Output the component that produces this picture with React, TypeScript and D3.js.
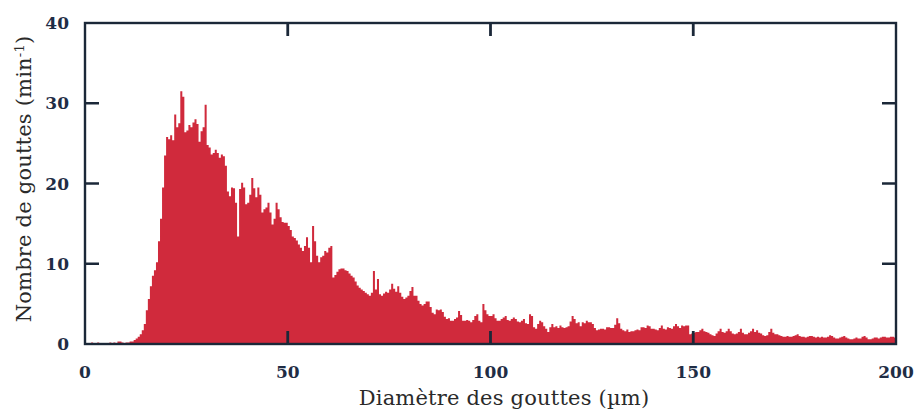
import React from 'react';
import * as d3 from 'd3';

// Histogram of droplet diameters, 0.5 µm bins (counts per minute)
const counts0to50 = [
  0.1, 0.1, 0.1, 0.2, 0.1, 0.1, 0.2, 0.1, 0.1, 0.1,
  0.1, 0.1, 0.2, 0.1, 0.2, 0.1, 0.3, 0.3, 0.2, 0.1,
  0.2, 0.2, 0.3, 0.3, 0.5, 0.7, 0.9, 1.2, 1.7, 2.5,
  4.2, 5.6, 7.2, 8.5, 9.2, 10.2, 12.8, 15.6, 19.5, 23.5,
  25.8, 25.5, 26.0, 25.4, 28.6, 27.0, 27.5, 31.5, 30.8, 26.4,
  26.6, 27.3, 27.0, 27.6, 28.0, 27.4, 25.2, 26.5, 27.0, 29.8,
  24.8, 24.5, 23.6, 23.8, 24.2, 23.8, 23.2, 23.6, 23.4, 22.2,
  19.0, 18.4, 19.5, 19.4, 17.6, 13.4, 19.3, 20.1, 19.5, 17.4,
  17.6, 18.6, 20.7, 19.4, 18.3, 19.5, 18.6, 16.4, 16.8, 17.0,
  17.6, 16.4, 14.9, 15.6, 17.6, 16.8, 15.8, 15.2, 15.1, 15.1,
];
const counts50to100 = [
  14.7, 14.2, 13.4, 13.2, 12.9, 12.4, 12.0, 11.6, 12.2, 13.3,
  12.0, 10.2, 14.7, 12.8, 11.0, 10.2, 10.8, 11.0, 11.6, 11.4,
  12.0, 12.2, 8.3, 8.6, 9.0, 9.3, 9.4, 9.4, 9.2, 9.1,
  8.8, 8.5, 8.3, 7.8, 7.3, 7.0, 6.8, 6.6, 6.4, 6.2,
  6.0, 6.4, 9.1, 6.8, 8.1, 6.2, 6.0, 6.3, 6.5, 6.4,
  6.8, 7.5, 6.9, 6.5, 7.2, 6.4, 5.9, 5.6, 5.8, 6.0,
  6.6, 7.1, 6.0, 6.0, 5.4, 5.0, 4.8, 5.0, 5.3, 5.3,
  4.6, 3.9, 3.7, 4.3, 4.2, 4.3, 4.0, 3.4, 3.1, 3.2,
  2.9, 2.9, 3.1, 3.3, 4.1, 3.6, 2.9, 2.9, 3.0, 2.9,
  2.7, 3.0, 3.5, 3.7, 2.9, 2.7, 5.0, 4.2, 3.7, 3.5,
];
const counts100to150 = [
  3.5, 3.7, 3.2, 2.9, 2.9, 3.1, 3.3, 3.5, 3.0, 2.9,
  3.1, 3.3, 3.1, 2.8, 2.7, 2.9, 3.1, 2.6, 2.5, 3.7,
  3.5, 2.1, 1.9, 2.5, 2.9, 2.7, 2.2, 1.9, 1.5, 2.1,
  2.5, 2.1, 2.2, 2.0, 2.3, 2.1, 2.0, 2.1, 2.2, 2.8,
  3.5, 3.1, 2.6, 2.7, 2.2, 2.7, 2.6, 2.9, 2.7, 2.7,
  2.5, 2.0, 1.7, 1.8, 1.9, 1.9, 1.8, 2.1, 2.1, 2.0,
  2.0, 2.4, 3.2, 2.6, 1.9, 1.7, 1.6, 1.8, 1.5, 1.6,
  1.6, 1.7, 1.8, 1.7, 2.1, 2.1, 2.0, 2.3, 2.2, 1.9,
  1.9, 1.8, 1.7, 2.0, 2.3, 1.9, 1.8, 2.1, 2.0, 1.9,
  2.2, 2.5, 2.2, 2.0, 2.3, 2.2, 2.3, 2.3, 1.2, 1.3,
];
const counts150to200 = [
  1.4, 1.5, 1.5, 1.7, 1.9, 1.6, 1.5, 1.4, 1.2, 1.1,
  1.0, 1.3, 1.6, 1.9, 1.5, 1.4, 1.6, 1.9, 1.6, 1.3,
  1.2, 1.3, 1.5, 1.9, 1.4, 1.2, 1.2, 1.4, 1.6, 1.9,
  1.5, 1.7, 1.4, 1.3, 1.1, 1.0, 1.1, 1.5, 1.9, 1.4,
  1.2, 1.2, 1.1, 1.0, 0.9, 0.9, 1.0, 0.9, 0.9, 1.0,
  1.1, 1.2, 1.0, 0.9, 0.9, 0.8, 0.9, 1.0, 1.0, 0.9,
  0.8, 0.9, 0.8, 0.9, 0.8, 0.8, 0.9, 1.1, 1.0, 0.8,
  0.7, 0.7, 0.8, 0.9, 1.0, 0.8, 0.7, 0.6, 0.6, 0.7,
  0.8, 0.7, 0.7, 0.9, 1.0, 0.8, 0.6, 0.6, 0.7, 0.8,
  0.8, 0.7, 0.8, 0.9, 0.9, 0.8, 0.8, 0.9, 0.9, 0.8,
];
const binWidth = 0.5;
const xTicks = [0, 50, 100, 150, 200];
const yTicks = [0, 10, 20, 30, 40];
const xTitle = 'Diamètre des gouttes (µm)';
const yTitle = 'Nombre de gouttes (min';

export default function App() {
  const W = 917;
  const H = 413;
  const left = 85, right = 896, top = 23, bottom = 344;
  const x = d3.scaleLinear().domain([0, 200]).range([left, right]);
  const y = d3.scaleLinear().domain([0, 40]).range([bottom, top]);

  const counts = [...counts0to50, ...counts50to100, ...counts100to150, ...counts150to200];
  const pts = counts.map((v, i) => ({ d: i * binWidth, v }));
  pts.push({ d: counts.length * binWidth, v: counts[counts.length - 1] });
  const area = d3
    .area<{ d: number; v: number }>()
    .x((p) => x(p.d))
    .y0(y(0))
    .y1((p) => y(p.v))
    .curve(d3.curveStepAfter);

  const frame = '#1b2838';
  const labelColor = '#1f2d45';
  const tickLen = 14;
  const titleFont = "'DejaVu Serif', serif";

  return (
    <svg width={W} height={H} style={{ position: 'absolute', left: 0, top: 0, background: '#fff' }}>
      <rect x={0} y={0} width={W} height={H} fill="#fff" />
      <path d={area(pts) || ''} fill="#d02a3c" stroke="none" />
      {/* frame */}
      <rect x={left} y={top} width={right - left} height={bottom - top} fill="none" stroke={frame} strokeWidth={2.4} />
      {/* ticks */}
      {yTicks.filter((t) => t > 0 && t < 40).map((t) => (
        <g key={'yt' + t}>
          <line x1={left} x2={left + tickLen} y1={y(t)} y2={y(t)} stroke={frame} strokeWidth={2.5} />
          <line x1={right - tickLen} x2={right} y1={y(t)} y2={y(t)} stroke={frame} strokeWidth={2.5} />
        </g>
      ))}
      {xTicks.filter((t) => t > 0 && t < 200).map((t) => (
        <g key={'xt' + t}>
          <line x1={x(t)} x2={x(t)} y1={bottom} y2={bottom - 13} stroke={frame} strokeWidth={2.8} />
          <line x1={x(t)} x2={x(t)} y1={top} y2={top + 13} stroke={frame} strokeWidth={2.8} />
        </g>
      ))}
      {/* tick labels */}
      {yTicks.map((t) => (
        <text key={'yl' + t} x={69} y={y(t)} dy="0.36em" textAnchor="end"
          fontFamily="'DejaVu Serif', serif" fontWeight="bold" fontSize={17} fill={labelColor}>
          {t}
        </text>
      ))}
      {xTicks.map((t) => (
        <text key={'xl' + t} x={x(t)} y={378} textAnchor="middle"
          fontFamily="'DejaVu Serif', serif" fontWeight="bold" fontSize={17} fill={labelColor}>
          {t}
        </text>
      ))}
      {/* axis titles */}
      <text x={504} y={405} textAnchor="middle" fontFamily={titleFont} fontSize={21}
        letterSpacing={0.2} fill="#2a2a2a">
        {xTitle}
      </text>
      <text transform={`translate(31,179) rotate(-90)`} textAnchor="middle"
        fontFamily={titleFont} fontSize={21} letterSpacing={0.2} fill="#2a2a2a">
        {yTitle}
        <tspan dy={-7} fontSize={13}>-1</tspan>
        <tspan dy={7}>)</tspan>
      </text>
    </svg>
  );
}
